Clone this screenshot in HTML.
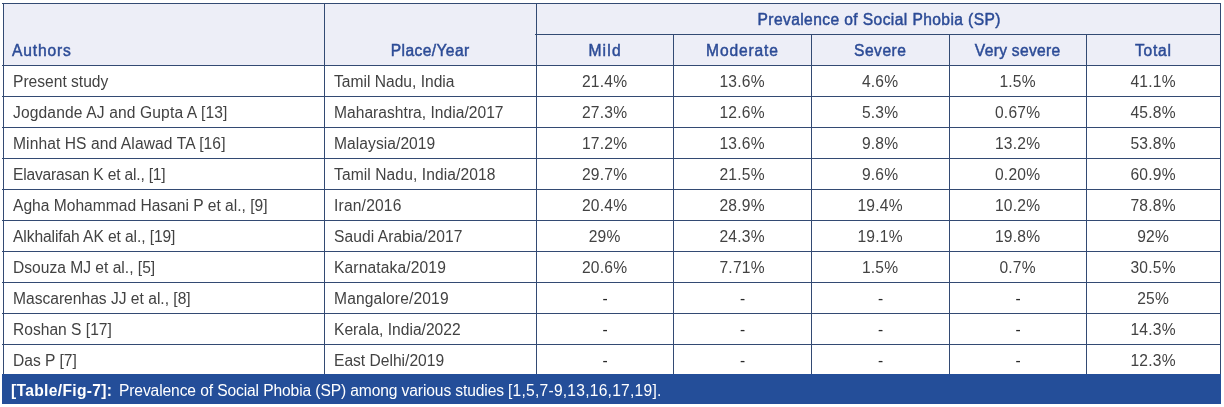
<!DOCTYPE html>
<html><head><meta charset="utf-8"><style>
html,body{margin:0;padding:0;background:#fff;}
body{width:1224px;height:407px;position:relative;overflow:hidden;font-family:"Liberation Sans",sans-serif;}
.a{position:absolute;}
.h{background:#334a73;position:absolute;height:1px;}
.v{background:#334a73;position:absolute;width:1px;}
.t{position:absolute;will-change:transform;font-size:15.6px;line-height:18px;white-space:nowrap;color:#424242;}
.c{text-align:center;}
.b{color:#2c4b96;-webkit-text-stroke:0.45px #2c4b96;letter-spacing:0.3px;}
.w{color:#fff;top:382px;}
</style></head><body>

<div class="a" style="left:3px;top:3px;width:1217px;height:62px;background:#edeef7"></div>
<div class="a" style="left:2px;top:374px;width:1219px;height:30px;background:#244e99"></div>
<div class="h" style="left:2px;top:3px;width:1219px"></div>
<div class="h" style="left:535px;top:34px;width:686px"></div>
<div class="h" style="left:2px;top:65px;width:1219px"></div>
<div class="h" style="left:2px;top:96px;width:1219px"></div>
<div class="h" style="left:2px;top:127px;width:1219px"></div>
<div class="h" style="left:2px;top:158px;width:1219px"></div>
<div class="h" style="left:2px;top:189px;width:1219px"></div>
<div class="h" style="left:2px;top:220px;width:1219px"></div>
<div class="h" style="left:2px;top:251px;width:1219px"></div>
<div class="h" style="left:2px;top:282px;width:1219px"></div>
<div class="h" style="left:2px;top:313px;width:1219px"></div>
<div class="h" style="left:2px;top:344px;width:1219px"></div>
<div class="v" style="left:3px;top:3px;height:371px"></div>
<div class="v" style="left:324px;top:3px;height:371px"></div>
<div class="v" style="left:536px;top:3px;height:371px"></div>
<div class="v" style="left:673px;top:34px;height:340px"></div>
<div class="v" style="left:811px;top:34px;height:340px"></div>
<div class="v" style="left:949px;top:34px;height:340px"></div>
<div class="v" style="left:1086px;top:34px;height:340px"></div>
<div class="v" style="left:1220px;top:3px;height:371px"></div>
<div class="t c b" style="left:536.6px;width:684px;top:11px"><span style="letter-spacing:0.400px;margin-right:-0.400px">Prevalence of Social Phobia (SP)</span></div>
<div class="t b" style="left:12px;top:42px"><span style="letter-spacing:0.850px;margin-right:-0.850px">Authors</span></div>
<div class="t c b" style="left:324px;width:212px;top:42px"><span style="letter-spacing:0.400px;margin-right:-0.400px">Place/Year</span></div>
<div class="t c b" style="left:536px;width:137px;top:42px"><span style="letter-spacing:1.200px;margin-right:-1.200px">Mild</span></div>
<div class="t c b" style="left:673px;width:138px;top:42px"><span style="letter-spacing:0.850px;margin-right:-0.850px">Moderate</span></div>
<div class="t c b" style="left:811px;width:138px;top:42px"><span style="letter-spacing:0.480px;margin-right:-0.480px">Severe</span></div>
<div class="t c b" style="left:949px;width:137px;top:42px"><span style="letter-spacing:0.300px;margin-right:-0.300px">Very severe</span></div>
<div class="t c b" style="left:1086px;width:134px;top:42px"><span style="letter-spacing:0.700px;margin-right:-0.700px">Total</span></div>
<div class="t" style="left:13px;top:73px">Present study</div>
<div class="t" style="left:334px;top:73px">Tamil Nadu, India</div>
<div class="t c" style="left:536px;width:137px;top:73px"><span style="letter-spacing:0.200px;margin-right:-0.200px">21.4%</span></div>
<div class="t c" style="left:673px;width:138px;top:73px"><span style="letter-spacing:0.200px;margin-right:-0.200px">13.6%</span></div>
<div class="t c" style="left:811px;width:138px;top:73px"><span style="letter-spacing:0.200px;margin-right:-0.200px">4.6%</span></div>
<div class="t c" style="left:949px;width:137px;top:73px"><span style="letter-spacing:0.200px;margin-right:-0.200px">1.5%</span></div>
<div class="t c" style="left:1086px;width:134px;top:73px"><span style="letter-spacing:0.200px;margin-right:-0.200px">41.1%</span></div>
<div class="t" style="left:13px;top:104px"><span style="letter-spacing:0.137px">Jogdande AJ and Gupta A [13]</span></div>
<div class="t" style="left:334px;top:104px"><span style="letter-spacing:0.023px">Maharashtra, India/2017</span></div>
<div class="t c" style="left:536px;width:137px;top:104px"><span style="letter-spacing:0.200px;margin-right:-0.200px">27.3%</span></div>
<div class="t c" style="left:673px;width:138px;top:104px"><span style="letter-spacing:0.200px;margin-right:-0.200px">12.6%</span></div>
<div class="t c" style="left:811px;width:138px;top:104px"><span style="letter-spacing:0.200px;margin-right:-0.200px">5.3%</span></div>
<div class="t c" style="left:949px;width:137px;top:104px"><span style="letter-spacing:0.200px;margin-right:-0.200px">0.67%</span></div>
<div class="t c" style="left:1086px;width:134px;top:104px"><span style="letter-spacing:0.200px;margin-right:-0.200px">45.8%</span></div>
<div class="t" style="left:13px;top:135px"><span style="letter-spacing:0.089px">Minhat HS and Alawad TA [16]</span></div>
<div class="t" style="left:334px;top:135px"><span style="letter-spacing:0.058px">Malaysia/2019</span></div>
<div class="t c" style="left:536px;width:137px;top:135px"><span style="letter-spacing:0.200px;margin-right:-0.200px">17.2%</span></div>
<div class="t c" style="left:673px;width:138px;top:135px"><span style="letter-spacing:0.200px;margin-right:-0.200px">13.6%</span></div>
<div class="t c" style="left:811px;width:138px;top:135px"><span style="letter-spacing:0.200px;margin-right:-0.200px">9.8%</span></div>
<div class="t c" style="left:949px;width:137px;top:135px"><span style="letter-spacing:0.200px;margin-right:-0.200px">13.2%</span></div>
<div class="t c" style="left:1086px;width:134px;top:135px"><span style="letter-spacing:0.200px;margin-right:-0.200px">53.8%</span></div>
<div class="t" style="left:13px;top:166px"><span style="letter-spacing:-0.183px">Elavarasan K et al., [1]</span></div>
<div class="t" style="left:334px;top:166px"><span style="letter-spacing:0.090px">Tamil Nadu, India/2018</span></div>
<div class="t c" style="left:536px;width:137px;top:166px"><span style="letter-spacing:0.200px;margin-right:-0.200px">29.7%</span></div>
<div class="t c" style="left:673px;width:138px;top:166px"><span style="letter-spacing:0.200px;margin-right:-0.200px">21.5%</span></div>
<div class="t c" style="left:811px;width:138px;top:166px"><span style="letter-spacing:0.200px;margin-right:-0.200px">9.6%</span></div>
<div class="t c" style="left:949px;width:137px;top:166px"><span style="letter-spacing:0.200px;margin-right:-0.200px">0.20%</span></div>
<div class="t c" style="left:1086px;width:134px;top:166px"><span style="letter-spacing:0.200px;margin-right:-0.200px">60.9%</span></div>
<div class="t" style="left:13px;top:197px">Agha Mohammad Hasani P et al., [9]</div>
<div class="t" style="left:334px;top:197px"><span style="letter-spacing:0.188px">Iran/2016</span></div>
<div class="t c" style="left:536px;width:137px;top:197px"><span style="letter-spacing:0.200px;margin-right:-0.200px">20.4%</span></div>
<div class="t c" style="left:673px;width:138px;top:197px"><span style="letter-spacing:0.200px;margin-right:-0.200px">28.9%</span></div>
<div class="t c" style="left:811px;width:138px;top:197px"><span style="letter-spacing:0.200px;margin-right:-0.200px">19.4%</span></div>
<div class="t c" style="left:949px;width:137px;top:197px"><span style="letter-spacing:0.200px;margin-right:-0.200px">10.2%</span></div>
<div class="t c" style="left:1086px;width:134px;top:197px"><span style="letter-spacing:0.200px;margin-right:-0.200px">78.8%</span></div>
<div class="t" style="left:13px;top:228px"><span style="letter-spacing:-0.092px">Alkhalifah AK et al., [19]</span></div>
<div class="t" style="left:334px;top:228px"><span style="letter-spacing:0.056px">Saudi Arabia/2017</span></div>
<div class="t c" style="left:536px;width:137px;top:228px"><span style="letter-spacing:0.200px;margin-right:-0.200px">29%</span></div>
<div class="t c" style="left:673px;width:138px;top:228px"><span style="letter-spacing:0.200px;margin-right:-0.200px">24.3%</span></div>
<div class="t c" style="left:811px;width:138px;top:228px"><span style="letter-spacing:0.200px;margin-right:-0.200px">19.1%</span></div>
<div class="t c" style="left:949px;width:137px;top:228px"><span style="letter-spacing:0.200px;margin-right:-0.200px">19.8%</span></div>
<div class="t c" style="left:1086px;width:134px;top:228px"><span style="letter-spacing:0.200px;margin-right:-0.200px">92%</span></div>
<div class="t" style="left:13px;top:259px">Dsouza MJ et al., [5]</div>
<div class="t" style="left:334px;top:259px"><span style="letter-spacing:0.131px">Karnataka/2019</span></div>
<div class="t c" style="left:536px;width:137px;top:259px"><span style="letter-spacing:0.200px;margin-right:-0.200px">20.6%</span></div>
<div class="t c" style="left:673px;width:138px;top:259px"><span style="letter-spacing:0.200px;margin-right:-0.200px">7.71%</span></div>
<div class="t c" style="left:811px;width:138px;top:259px"><span style="letter-spacing:0.200px;margin-right:-0.200px">1.5%</span></div>
<div class="t c" style="left:949px;width:137px;top:259px"><span style="letter-spacing:0.200px;margin-right:-0.200px">0.7%</span></div>
<div class="t c" style="left:1086px;width:134px;top:259px"><span style="letter-spacing:0.200px;margin-right:-0.200px">30.5%</span></div>
<div class="t" style="left:13px;top:290px">Mascarenhas JJ et al., [8]</div>
<div class="t" style="left:334px;top:290px"><span style="letter-spacing:0.146px">Mangalore/2019</span></div>
<div class="t c" style="left:536px;width:137px;top:290px;color:#2a2a2a;padding-left:1px;box-sizing:border-box"><span style="letter-spacing:0.200px;margin-right:-0.200px">-</span></div>
<div class="t c" style="left:673px;width:138px;top:290px;color:#2a2a2a;padding-left:1px;box-sizing:border-box"><span style="letter-spacing:0.200px;margin-right:-0.200px">-</span></div>
<div class="t c" style="left:811px;width:138px;top:290px;color:#2a2a2a;padding-left:1px;box-sizing:border-box"><span style="letter-spacing:0.200px;margin-right:-0.200px">-</span></div>
<div class="t c" style="left:949px;width:137px;top:290px;color:#2a2a2a;padding-left:1px;box-sizing:border-box"><span style="letter-spacing:0.200px;margin-right:-0.200px">-</span></div>
<div class="t c" style="left:1086px;width:134px;top:290px"><span style="letter-spacing:0.200px;margin-right:-0.200px">25%</span></div>
<div class="t" style="left:13px;top:321px">Roshan S [17]</div>
<div class="t" style="left:334px;top:321px">Kerala, India/2022</div>
<div class="t c" style="left:536px;width:137px;top:321px;color:#2a2a2a;padding-left:1px;box-sizing:border-box"><span style="letter-spacing:0.200px;margin-right:-0.200px">-</span></div>
<div class="t c" style="left:673px;width:138px;top:321px;color:#2a2a2a;padding-left:1px;box-sizing:border-box"><span style="letter-spacing:0.200px;margin-right:-0.200px">-</span></div>
<div class="t c" style="left:811px;width:138px;top:321px;color:#2a2a2a;padding-left:1px;box-sizing:border-box"><span style="letter-spacing:0.200px;margin-right:-0.200px">-</span></div>
<div class="t c" style="left:949px;width:137px;top:321px;color:#2a2a2a;padding-left:1px;box-sizing:border-box"><span style="letter-spacing:0.200px;margin-right:-0.200px">-</span></div>
<div class="t c" style="left:1086px;width:134px;top:321px"><span style="letter-spacing:0.200px;margin-right:-0.200px">14.3%</span></div>
<div class="t" style="left:13px;top:352px">Das P [7]</div>
<div class="t" style="left:334px;top:352px">East Delhi/2019</div>
<div class="t c" style="left:536px;width:137px;top:352px;color:#2a2a2a;padding-left:1px;box-sizing:border-box"><span style="letter-spacing:0.200px;margin-right:-0.200px">-</span></div>
<div class="t c" style="left:673px;width:138px;top:352px;color:#2a2a2a;padding-left:1px;box-sizing:border-box"><span style="letter-spacing:0.200px;margin-right:-0.200px">-</span></div>
<div class="t c" style="left:811px;width:138px;top:352px;color:#2a2a2a;padding-left:1px;box-sizing:border-box"><span style="letter-spacing:0.200px;margin-right:-0.200px">-</span></div>
<div class="t c" style="left:949px;width:137px;top:352px;color:#2a2a2a;padding-left:1px;box-sizing:border-box"><span style="letter-spacing:0.200px;margin-right:-0.200px">-</span></div>
<div class="t c" style="left:1086px;width:134px;top:352px"><span style="letter-spacing:0.200px;margin-right:-0.200px">12.3%</span></div>
<div class="t w" style="left:11px;font-weight:bold;letter-spacing:0.33px">[Table/Fig-7]:</div>
<div class="t w" style="left:118.7px;letter-spacing:-0.11px">Prevalence of Social Phobia (SP) among various studies</div>
<div class="t w" style="left:508px;letter-spacing:0.24px">[1,5,7-9,13,16,17,19].</div>
</body></html>
